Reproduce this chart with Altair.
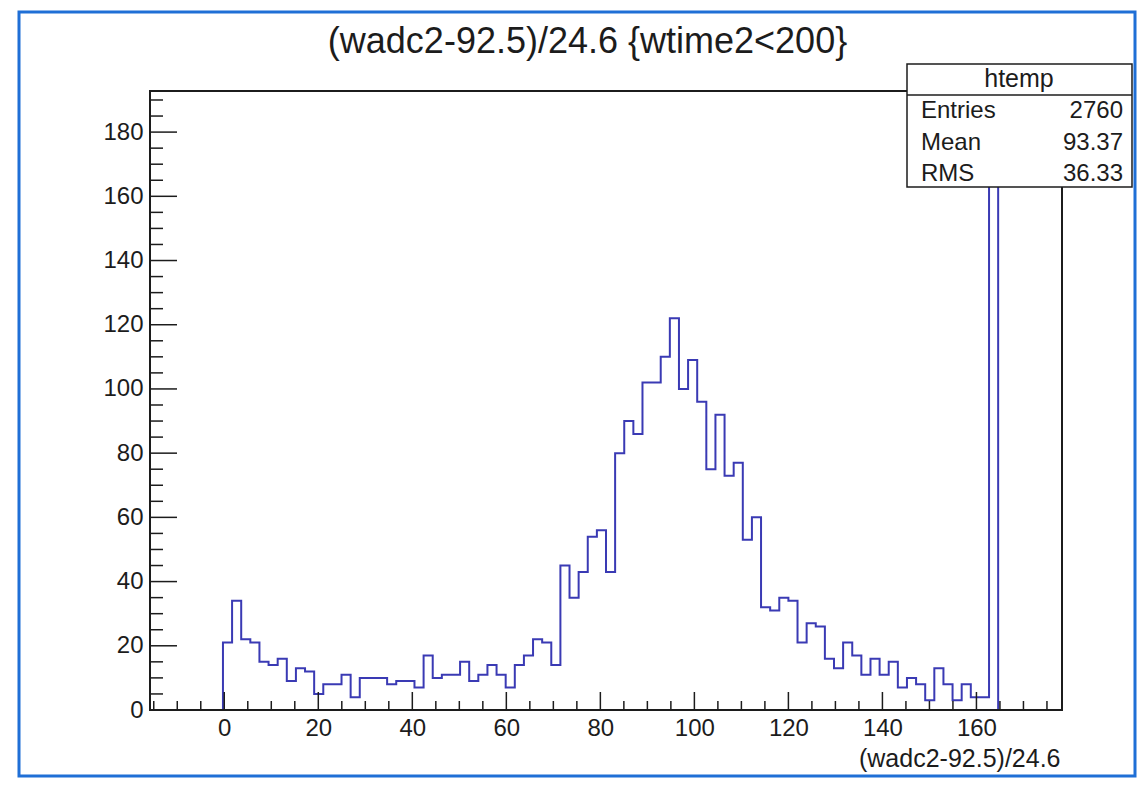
import altair as alt
import pandas as pd

# ---------------- data ----------------
# histogram "htemp": 100 bins over the x range, only bins from ~0 upward are filled
counts = [21, 34, 22, 21, 15, 14, 16, 9, 13, 12,
          5, 8, 8, 11, 4, 10, 10, 10, 8, 9,
          9, 7, 17, 10, 11, 11, 15, 9, 11, 14,
          11, 7, 14, 17, 22, 21, 14, 45, 35, 43,
          54, 56, 43, 80, 90, 86, 102, 102, 110, 122,
          100, 109, 96, 75, 92, 73, 77, 53, 60, 32,
          31, 35, 34, 21, 27, 26, 16, 13, 21, 17,
          11, 16, 11, 15, 7, 10, 8, 3, 13, 8,
          3, 8, 4, 4, 183]
bin_lo = -0.28          # left edge of first filled bin
bin_w = 1.94            # bin width
x_range = [-15.8, 178.2]
y_range = [0, 192.8]

x_labels = [0, 20, 40, 60, 80, 100, 120, 140, 160]
x_minor = [-15, -10, -5, 5, 10, 15, 25, 30, 35, 45, 50, 55, 65, 70, 75,
           85, 90, 95, 105, 110, 115, 125, 130, 135, 145, 150, 155, 165, 170, 175]
y_labels = [0, 20, 40, 60, 80, 100, 120, 140, 160, 180]
y_minor = [5, 10, 15, 25, 30, 35, 45, 50, 55, 65, 70, 75, 85, 90, 95, 105, 110,
           115, 125, 130, 135, 145, 150, 155, 165, 170, 175, 185, 190]

title_text = "(wadc2-92.5)/24.6 {wtime2<200}"
x_title = "(wadc2-92.5)/24.6"
stats_name = "htemp"
stats_labels = ["Entries", "Mean", "RMS"]
stats_values = ["2760", "93.37", "36.33"]

# ---------------- build tables ----------------
edges = [bin_lo + bin_w * j for j in range(len(counts) + 1)]
step_x = [edges[0]] + edges[:-1] + [edges[-1]]
step_y = [0] + counts + [0]
hist_df = pd.DataFrame({"x": step_x, "y": step_y, "i": list(range(len(step_x)))})

W, H = 912, 619
FONT = "Liberation Sans"
DARK = "#1c1c1c"
BLUE_LINE = "#3a3ab4"

xscale = alt.Scale(domain=x_range, nice=False, zero=False)
yscale = alt.Scale(domain=y_range, nice=False, zero=False)

x_axis = alt.Axis(values=x_labels, ticks=False, domain=False, grid=False,
                  labelFontSize=24, labelPadding=6, labelColor=DARK,
                  labelOverlap=False, labelFlush=False,
                  title=x_title, titleFontSize=25, titleFontWeight="normal",
                  titleColor=DARK, titleAlign="right", titleAnchor="end",
                  titleBaseline="alphabetic", titleX=910, titleY=56)
y_axis = alt.Axis(values=y_labels, ticks=False, domain=False, grid=False,
                  labelFontSize=24, labelPadding=7, labelColor=DARK,
                  labelOverlap=False, labelFlush=False, title="")

one = pd.DataFrame({"d": [0]})

# outer blue canvas frame
border = alt.Chart(one).mark_rect(fillOpacity=0, stroke="#1f6fd6", strokeWidth=3).encode(
    x=alt.value(-131), x2=alt.value(985), y=alt.value(-79), y2=alt.value(685)
)

hist = alt.Chart(hist_df).mark_line(
    interpolate="step-after", color=BLUE_LINE, strokeWidth=2
).encode(
    x=alt.X("x:Q", scale=xscale, axis=x_axis),
    y=alt.Y("y:Q", scale=yscale, axis=y_axis),
    order="i:Q",
)

frame = alt.Chart(one).mark_rect(fillOpacity=0, stroke=DARK, strokeWidth=2).encode(
    x=alt.value(0), x2=alt.value(W), y=alt.value(0), y2=alt.value(H)
)

def xticks(vals, length):
    return alt.Chart(pd.DataFrame({"x": vals})).mark_rule(color=DARK, strokeWidth=1.5).encode(
        x=alt.X("x:Q", scale=xscale, axis=x_axis),
        y=alt.value(H), y2=alt.value(H - length),
    )

def yticks(vals, length):
    return alt.Chart(pd.DataFrame({"y": vals})).mark_rule(color=DARK, strokeWidth=1.5).encode(
        y=alt.Y("y:Q", scale=yscale, axis=y_axis),
        x=alt.value(0), x2=alt.value(length),
    )

# stats box
box = alt.Chart(one).mark_rect(fill="white", stroke=DARK, strokeWidth=1.5).encode(
    x=alt.value(757), x2=alt.value(982), y=alt.value(-27), y2=alt.value(96)
)
sep = alt.Chart(one).mark_rule(color=DARK, strokeWidth=1.5).encode(
    x=alt.value(757), x2=alt.value(982), y=alt.value(4)
)

def txt(s, x, y, size, align):
    return alt.Chart(pd.DataFrame({"t": [s]})).mark_text(
        font=FONT, fontSize=size, align=align, baseline="alphabetic", color=DARK
    ).encode(x=alt.value(x), y=alt.value(y), text="t:N")

texts = [txt(title_text, 437.5, -38.5, 36, "center"),
         txt(stats_name, 869, -4, 25, "center")]
for k, (lab, val) in enumerate(zip(stats_labels, stats_values)):
    yb = [27, 59, 90][k]
    texts.append(txt(lab, 771, yb, 24, "left"))
    texts.append(txt(val, 973, yb, 24, "right"))

chart = alt.layer(
    border, hist, frame,
    xticks(x_labels, 18), xticks(x_minor, 9),
    yticks(y_labels, 27), yticks(y_minor, 13),
    box, sep, *texts
).properties(
    width=W, height=H,
    padding={"left": 142, "top": 83, "right": 76, "bottom": 68},
    autosize=alt.AutoSizeParams(type="none"),
    background="white",
).configure_view(
    stroke=None
).configure_axis(
    labelFont=FONT, titleFont=FONT
)

chart.save("out.html", embed_options={"renderer": "svg", "actions": False})
